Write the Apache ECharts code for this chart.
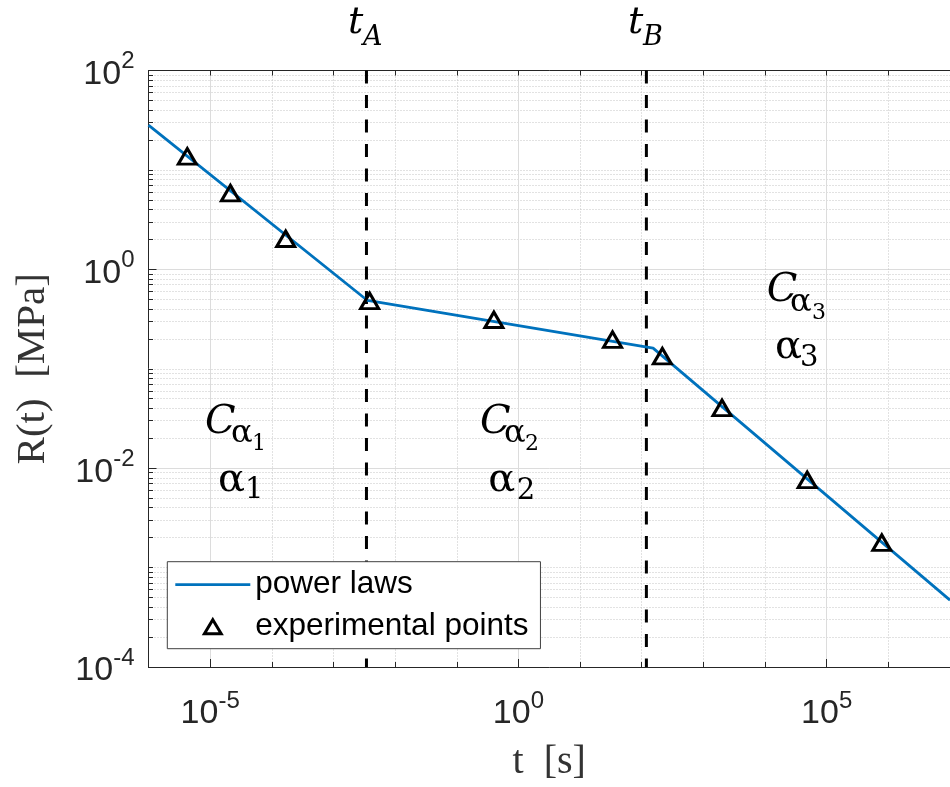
<!DOCTYPE html>
<html><head><meta charset="utf-8">
<script src="https://cdn.jsdelivr.net/npm/echarts@6/dist/echarts.min.js"></script>
<style>html,body{margin:0;padding:0;background:#fff}#c{width:950px;height:787px}</style>
</head><body><div id="c"></div>
<script>
// ---- data ----
const expT = [4.26e-6, 2.13e-5, 1.68e-4, 3.86e-3, 0.40, 33.6, 216, 2005, 48300, 7.83e5];
const expR = [13.7, 5.84, 2.03, 0.482, 0.311, 0.196, 0.134, 0.0404, 0.00764, 0.00178];
const lawT = [1e-6, 3.56e-3, 152.8, 1e7];
const lawR = [28.2, 0.486, 0.161, 4.7e-4];
const tA = 3.43e-3, tB = 119;
const xTicks = [1e-6, 1e-5, 1e-4, 1e-3, 1e-2, 1e-1, 1, 1e1, 1e2, 1e3, 1e4, 1e5, 1e6, 1e7];
const xMajor = [1e-5, 1, 1e5];
const yDecades = [1e-4, 1e-3, 1e-2, 1e-1, 1, 1e1];
const yMult = [1, 2, 3, 4, 5, 6, 7, 8, 9];
const yMajor = [1e-4, 1e-2, 1, 1e2];
const yTicks = [];
yDecades.forEach(d => yMult.forEach(m => yTicks.push(+(d * m).toPrecision(3))));
yTicks.push(100);

const X_MIN = 1e-6, X_MAX = 1e7, Y_MIN = 1e-4, Y_MAX = 1e2;
const axisColor = '#262626';
const blue = '#0072BD';
const fmt = v => '{b|10}{s|' + Math.round(Math.log10(v)) + '}';
const richLbl = {
  b: {fontSize: 34, fontFamily: 'Liberation Sans', color: axisColor, lineHeight: 50},
  s: {fontSize: 24, fontFamily: 'Liberation Sans', color: axisColor, lineHeight: 24, verticalAlign: 'top'}
};

const chart = echarts.init(document.getElementById('c'), null, {renderer: 'canvas'});
const gridCfg = {left: 148.5, top: 70.5, width: 806.5, height: 599.5};

const baseX = {type: 'log', logBase: 10, min: X_MIN, max: X_MAX, gridIndex: 0};
const baseY = {type: 'log', logBase: 10, min: Y_MIN, max: Y_MAX, gridIndex: 0};

chart.setOption({
  animation: false,
  backgroundColor: '#fff',
  grid: gridCfg,
  xAxis: [
    Object.assign({}, baseX, {
      position: 'bottom',
      name: 't  [s]', nameLocation: 'middle', nameGap: 75,
      nameTextStyle: {fontFamily: 'Liberation Serif', fontSize: 40, color: '#333'},
      axisLine: {show: true, lineStyle: {color: axisColor, width: 1}},
      axisTick: {show: true, inside: true, length: 5, customValues: xTicks, lineStyle: {color: axisColor}},
      axisLabel: {show: true, customValues: xMajor, margin: 22, formatter: fmt, rich: richLbl},
      splitLine: {show: true, lineStyle: {color: '#c4c4c4', type: [1, 2], width: 1}},
      minorTick: {show: false}, minorSplitLine: {show: false}
    }),
    Object.assign({}, baseX, {
      position: 'top',
      axisLine: {show: true, lineStyle: {color: axisColor, width: 1}},
      axisTick: {show: true, inside: true, length: 5, customValues: xTicks, lineStyle: {color: axisColor}},
      axisLabel: {show: false}, splitLine: {show: false}
    }),
    Object.assign({}, baseX, {
      position: 'bottom',
      axisLine: {show: false},
      axisTick: {show: true, inside: true, length: 8, customValues: xMajor, lineStyle: {color: axisColor}},
      axisLabel: {show: false},
      splitLine: {show: true, lineStyle: {color: '#dcdcdc', type: 'solid', width: 1}}
    })
  ],
  yAxis: [
    Object.assign({}, baseY, {
      position: 'left',
      name: 'R(t)  [MPa]', nameLocation: 'middle', nameGap: 95, nameRotate: 90,
      nameTextStyle: {fontFamily: 'Liberation Serif', fontSize: 41, color: '#333'},
      axisLine: {show: true, lineStyle: {color: axisColor, width: 1}},
      axisTick: {show: true, inside: true, length: 4.5, customValues: yTicks, lineStyle: {color: axisColor}},
      axisLabel: {show: true, customValues: yMajor, margin: 14, formatter: fmt, rich: richLbl, padding: [8, 0, 0, 0]},
      splitLine: {show: true, lineStyle: {color: '#c4c4c4', type: [1, 2], width: 1}}
    }),
    Object.assign({}, baseY, {
      position: 'left',
      axisLine: {show: false},
      axisTick: {show: true, inside: true, length: 8, customValues: yMajor, lineStyle: {color: axisColor}},
      axisLabel: {show: false},
      splitLine: {show: true, lineStyle: {color: '#dcdcdc', type: 'solid', width: 1}}
    })
  ],
  legend: {
    orient: 'vertical', left: 167.3, top: 561.7,
    data: [
      {name: 'power laws', icon: 'path://M0,0 L75,0 L75,2.8 L0,2.8 Z',
       itemStyle: {color: blue, borderWidth: 0}},
      {name: 'experimental points', icon: 'path://M6,0 L12,10 L0,10 Z',
       itemStyle: {color: 'rgba(0,0,0,0)', borderColor: '#000', borderWidth: 3}}
    ],
    itemWidth: 75, itemHeight: 14, itemGap: 8,
    padding: [6, 12, 5, 8],
    backgroundColor: '#fff', borderColor: '#404040', borderWidth: 1, borderRadius: 0,
    textStyle: {fontFamily: 'Liberation Sans', fontSize: 31.5, color: '#000', lineHeight: 34},
    selectedMode: false
  },
  series: [
    {
      name: 'tA', type: 'line', xAxisIndex: 0, yAxisIndex: 0, symbol: 'none', silent: true, z: 3,
      data: [[tA, Y_MAX], [tA, Y_MIN]],
      lineStyle: {color: '#000', width: 3, type: [13, 11.5]}
    },
    {
      name: 'tB', type: 'line', xAxisIndex: 0, yAxisIndex: 0, symbol: 'none', silent: true, z: 3,
      data: [[tB, Y_MAX], [tB, Y_MIN]],
      lineStyle: {color: '#000', width: 3, type: [13, 11.5]}
    },
    {
      name: 'power laws', type: 'line', xAxisIndex: 0, yAxisIndex: 0, symbol: 'none', z: 4,
      data: lawT.map((t, i) => [t, lawR[i]]),
      lineStyle: {color: blue, width: 2.8}, itemStyle: {color: blue}
    },
    {
      name: 'experimental points', type: 'scatter', xAxisIndex: 0, yAxisIndex: 0, z: 5,
      symbol: 'triangle', symbolSize: [18, 15.5],
      data: expT.map((t, i) => [t, expR[i]]),
      itemStyle: {color: 'rgba(0,0,0,0)', borderColor: '#000', borderWidth: 3, opacity: 1}
    }
  ]
});

// ---- text annotations ----
function txt(x, baseY, str, size, italic) {
  return {
    type: 'text', x: x, y: baseY - 0.32 * size, z: 100, silent: true,
    style: {
      text: str, fill: '#000', align: 'left', verticalAlign: 'middle',
      font: (italic ? 'italic ' : '') + size + 'px "DejaVu Serif"'
    }
  };
}
const pxA = chart.convertToPixel({xAxisIndex: 0}, tA);
const pxB = chart.convertToPixel({xAxisIndex: 0}, tB);
const g = [
  txt(pxA - 18.5, 35, 't', 38, true), txt(pxA - 3.5, 46.7, 'A', 27, true),
  txt(pxB - 18.5, 35, 't', 38, true), txt(pxB - 3.5, 46.7, 'B', 27, true),
  // C_alpha1 / alpha1
  txt(205, 435, 'C', 40, true), txt(231, 444, 'α', 32, false), txt(252, 451, '1', 22, false),
  txt(218, 493, 'α', 40, false), txt(245, 500, '1', 29, false),
  // C_alpha2 / alpha2
  txt(480, 435, 'C', 40, true), txt(504, 444, 'α', 32, false), txt(525, 451, '2', 22, false),
  txt(488.3, 493, 'α', 40, false), txt(516.7, 501, '2', 29, false),
  // C_alpha3 / alpha3
  txt(766.7, 303, 'C', 40, true), txt(790, 313, 'α', 32, false), txt(812, 320, '3', 22, false),
  txt(775, 360, 'α', 40, false), txt(800, 368, '3', 29, false)
];
chart.setOption({graphic: g});
</script>
</body></html>
